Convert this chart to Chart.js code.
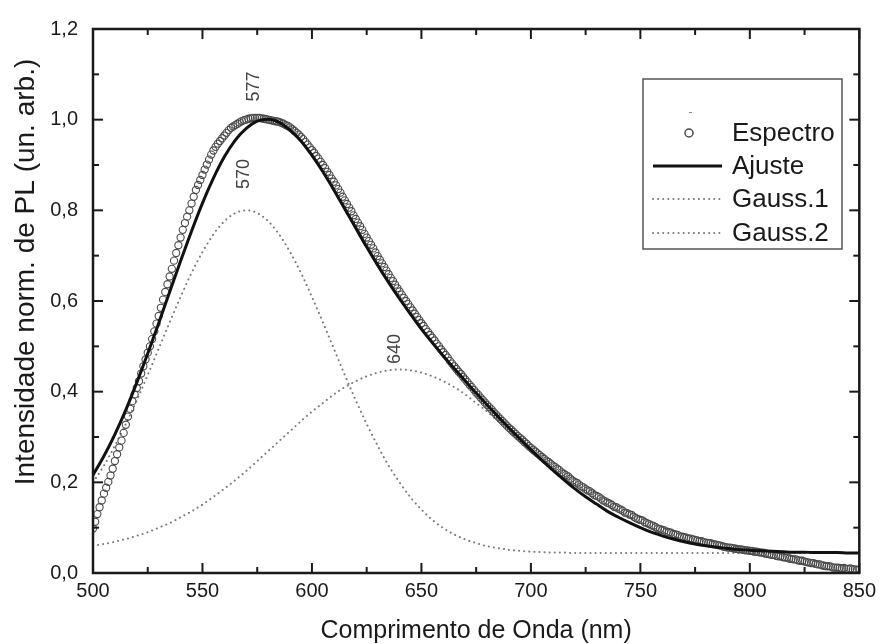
<!DOCTYPE html>
<html>
<head>
<meta charset="utf-8">
<script src="https://cdn.jsdelivr.net/npm/chart.js@4.4.1/dist/chart.umd.min.js"></script>
<style>
  html, body { margin: 0; padding: 0; background: #fff; }
  #wrap { width: 882px; height: 644px; }
</style>
</head>
<body>
<div id="wrap"><canvas id="plChart" width="882" height="644"></canvas></div>
<script>
// measured spectrum, one point per nm from 500 to 850
const specStart = 500
const specStep = 1
const espectro = [
  0.098, 0.113, 0.130, 0.145, 0.160, 0.175, 0.188, 0.201, 0.215, 0.230,
  0.247, 0.262, 0.277, 0.292, 0.309, 0.327, 0.345, 0.362, 0.379, 0.394,
  0.408, 0.423, 0.440, 0.456, 0.471, 0.486, 0.500, 0.516, 0.533, 0.550,
  0.567, 0.585, 0.603, 0.620, 0.637, 0.654, 0.671, 0.689, 0.706, 0.723,
  0.740, 0.757, 0.772, 0.786, 0.800, 0.815, 0.830, 0.845, 0.856, 0.867,
  0.878, 0.890, 0.901, 0.912, 0.923, 0.932, 0.940, 0.947, 0.953, 0.959,
  0.965, 0.971, 0.977, 0.982, 0.985, 0.988, 0.991, 0.994, 0.997, 0.999,
  1.000, 1.002, 1.003, 1.004, 1.004, 1.004, 1.004, 1.003, 1.002, 1.001,
  1.000, 0.999, 0.998, 0.997, 0.996, 0.995, 0.993, 0.991, 0.988, 0.986,
  0.983, 0.979, 0.975, 0.971, 0.967, 0.962, 0.957, 0.951, 0.945, 0.939,
  0.933, 0.927, 0.920, 0.914, 0.907, 0.900, 0.893, 0.885, 0.878, 0.870,
  0.863, 0.855, 0.847, 0.839, 0.830, 0.822, 0.814, 0.806, 0.798, 0.789,
  0.781, 0.773, 0.765, 0.757, 0.748, 0.740, 0.732, 0.724, 0.716, 0.707,
  0.699, 0.691, 0.683, 0.675, 0.667, 0.659, 0.651, 0.644, 0.636, 0.628,
  0.621, 0.614, 0.607, 0.600, 0.593, 0.586, 0.579, 0.572, 0.565, 0.558,
  0.551, 0.545, 0.538, 0.532, 0.525, 0.519, 0.513, 0.506, 0.500, 0.493,
  0.487, 0.481, 0.475, 0.468, 0.462, 0.456, 0.450, 0.444, 0.439, 0.433,
  0.427, 0.421, 0.415, 0.410, 0.404, 0.398, 0.393, 0.387, 0.382, 0.376,
  0.371, 0.366, 0.361, 0.355, 0.350, 0.345, 0.340, 0.335, 0.330, 0.325,
  0.320, 0.316, 0.311, 0.307, 0.302, 0.298, 0.294, 0.289, 0.285, 0.280,
  0.276, 0.272, 0.268, 0.264, 0.260, 0.256, 0.252, 0.248, 0.245, 0.241,
  0.237, 0.234, 0.230, 0.227, 0.222, 0.219, 0.216, 0.213, 0.208, 0.204,
  0.201, 0.199, 0.195, 0.191, 0.189, 0.185, 0.182, 0.180, 0.176, 0.172,
  0.170, 0.168, 0.164, 0.160, 0.158, 0.155, 0.153, 0.150, 0.146, 0.145,
  0.142, 0.140, 0.137, 0.133, 0.132, 0.129, 0.128, 0.124, 0.121, 0.119,
  0.117, 0.116, 0.112, 0.110, 0.108, 0.105, 0.104, 0.101, 0.098, 0.097,
  0.095, 0.094, 0.091, 0.090, 0.089, 0.086, 0.085, 0.084, 0.081, 0.080,
  0.079, 0.078, 0.076, 0.076, 0.074, 0.073, 0.072, 0.070, 0.070, 0.068,
  0.067, 0.066, 0.066, 0.064, 0.063, 0.062, 0.061, 0.060, 0.058, 0.057,
  0.056, 0.056, 0.055, 0.054, 0.053, 0.052, 0.052, 0.051, 0.050, 0.050,
  0.049, 0.049, 0.047, 0.047, 0.046, 0.045, 0.045, 0.043, 0.042, 0.041,
  0.040, 0.040, 0.038, 0.037, 0.037, 0.035, 0.034, 0.034, 0.032, 0.031,
  0.030, 0.030, 0.028, 0.027, 0.027, 0.025, 0.024, 0.023, 0.022, 0.022,
  0.020, 0.019, 0.019, 0.017, 0.016, 0.015, 0.015, 0.014, 0.012, 0.012,
  0.012, 0.011, 0.010, 0.011, 0.009, 0.009, 0.010, 0.008, 0.008, 0.007,
  0.008
]

// fit curves, one point every 5 nm from 500 to 850
const fitStart = 500
const fitStep = 5
const ajuste = [
  0.216, 0.258, 0.306, 0.360, 0.420, 0.484, 0.551, 0.620, 0.688, 0.754,
  0.816, 0.871, 0.918, 0.955, 0.981, 0.997, 1.001, 0.994, 0.977, 0.953,
  0.921, 0.885, 0.845, 0.803, 0.761, 0.719, 0.679, 0.641, 0.605, 0.571,
  0.538, 0.508, 0.479, 0.451, 0.424, 0.397, 0.371, 0.345, 0.320, 0.296,
  0.272, 0.249, 0.227, 0.206, 0.186, 0.168, 0.152, 0.136, 0.123, 0.111,
  0.100, 0.090, 0.082, 0.075, 0.069, 0.064, 0.060, 0.057, 0.054, 0.052,
  0.050, 0.049, 0.048, 0.047, 0.046, 0.046, 0.045, 0.045, 0.045, 0.044,
  0.044
]
const gauss1 = [
  0.200, 0.237, 0.281, 0.329, 0.381, 0.437, 0.495, 0.553, 0.609, 0.662,
  0.708, 0.747, 0.776, 0.794, 0.800, 0.794, 0.776, 0.747, 0.708, 0.662,
  0.609, 0.553, 0.495, 0.437, 0.381, 0.329, 0.281, 0.237, 0.200, 0.167,
  0.140, 0.117, 0.099, 0.085, 0.074, 0.066, 0.059, 0.055, 0.051, 0.049,
  0.047, 0.046, 0.045, 0.045, 0.044, 0.044, 0.044, 0.044, 0.044, 0.044,
  0.044, 0.044, 0.044, 0.044, 0.044, 0.044, 0.044, 0.044, 0.044, 0.044,
  0.044, 0.044, 0.044, 0.044, 0.044, 0.044, 0.044, 0.044, 0.044, 0.044,
  0.044
]
const gauss2 = [
  0.060, 0.064, 0.069, 0.075, 0.082, 0.090, 0.100, 0.110, 0.123, 0.136,
  0.151, 0.168, 0.186, 0.205, 0.225, 0.247, 0.269, 0.291, 0.313, 0.335,
  0.356, 0.375, 0.394, 0.410, 0.423, 0.434, 0.442, 0.447, 0.449, 0.447,
  0.442, 0.434, 0.423, 0.410, 0.394, 0.375, 0.356, 0.335, 0.313, 0.291,
  0.269, 0.247, 0.225, 0.205, 0.186, 0.168, 0.151, 0.136, 0.123, 0.110,
  0.100, 0.090, 0.082, 0.075, 0.069, 0.064, 0.060, 0.057, 0.054, 0.052,
  0.050, 0.049, 0.048, 0.047, 0.046, 0.046, 0.045, 0.045, 0.045, 0.044,
  0.044
]

// peak centre labels (text, wavelength, height where the text sits)
const peakLabels = ["577", "570", "640"]
const peakWl = [573.5, 569, 638]
const peakLevel = [1.073, 0.88, 0.494]

const yTitle = "Intensidade norm. de PL (un. arb.)"

const FONT = '"Liberation Sans", Arial, Helvetica, sans-serif'
const INK = "#1a1a1a"
const DOT = "#7a7a7a"

const toPoints = (vals, start, step) =>
  vals.map((v, i) => ({ x: start + i * step, y: v }))

// frame with inward ticks on all four sides, like the Origin plot
const frameTicks = {
  id: "frameTicks",
  afterDatasetsDraw(chart) {
    const { ctx, chartArea: a, scales } = chart
    const { x, y } = scales
    ctx.save()
    ctx.strokeStyle = INK
    ctx.lineWidth = 2
    const mark = (x0, y0, dx, dy) => {
      ctx.beginPath()
      ctx.moveTo(x0, y0)
      ctx.lineTo(x0 + dx, y0 + dy)
      ctx.stroke()
    }
    const major = 10
    const minor = 6
    x.ticks.forEach((t, i) => {
      const px = x.getPixelForValue(t.value)
      mark(px, a.bottom, 0, -major)
      mark(px, a.top, 0, major)
      const next = x.ticks[i + 1]
      if (next) {
        const mx = x.getPixelForValue((t.value + next.value) / 2)
        mark(mx, a.bottom, 0, -minor)
        mark(mx, a.top, 0, minor)
      }
    })
    y.ticks.forEach((t, i) => {
      const py = y.getPixelForValue(t.value)
      mark(a.left, py, major, 0)
      mark(a.right, py, -major, 0)
      const next = y.ticks[i + 1]
      if (next) {
        const my = y.getPixelForValue((t.value + next.value) / 2)
        mark(a.left, my, minor, 0)
        mark(a.right, my, -minor, 0)
      }
    })
    ctx.lineWidth = 2.5
    ctx.strokeRect(a.left, a.top, a.right - a.left, a.bottom - a.top)
    ctx.restore()
  },
  afterDraw(chart) {
    const { ctx, scales } = chart
    const { x, y } = scales
    ctx.save()

    // y title sits a bit above the axis centre in the original
    ctx.fillStyle = INK
    ctx.font = "28px " + FONT
    ctx.textAlign = "center"
    ctx.textBaseline = "middle"
    ctx.save()
    ctx.translate(26, 272)
    ctx.rotate(-Math.PI / 2)
    ctx.fillText(yTitle, 0, 0)
    ctx.restore()

    // rotated peak labels
    ctx.fillStyle = "#444"
    ctx.font = "18px " + FONT
    peakLabels.forEach((txt, i) => {
      ctx.save()
      ctx.translate(x.getPixelForValue(peakWl[i]), y.getPixelForValue(peakLevel[i]))
      ctx.rotate(-Math.PI / 2)
      ctx.fillText(txt, 0, 0)
      ctx.restore()
    })

    // legend box
    const box = { left: 643, top: 79, right: 842, bottom: 249 }
    ctx.strokeStyle = "#555"
    ctx.lineWidth = 1.5
    ctx.strokeRect(box.left, box.top, box.right - box.left, box.bottom - box.top)

    const rows = [133, 166, 199, 233]
    const symL = 653
    const symR = 722
    const textX = 732
    ctx.font = "26px " + FONT
    ctx.textAlign = "left"
    ctx.fillStyle = INK
    chart.data.datasets.forEach((ds, i) => {
      const ry = rows[i]
      if (ds.showLine === false) {
        ctx.strokeStyle = "#888"
        ctx.lineWidth = 1
        ctx.beginPath()
        ctx.moveTo(689, 112.5)
        ctx.lineTo(692, 112.5)
        ctx.stroke()
        ctx.strokeStyle = ds.borderColor
        ctx.lineWidth = 1.5
        ctx.beginPath()
        ctx.arc(689, ry, 4, 0, Math.PI * 2)
        ctx.stroke()
      } else {
        ctx.strokeStyle = ds.borderColor
        ctx.lineWidth = ds.borderWidth
        ctx.lineCap = ds.borderCapStyle || "butt"
        ctx.setLineDash(ds.borderDash || [])
        ctx.beginPath()
        ctx.moveTo(symL, ry)
        ctx.lineTo(symR, ry)
        ctx.stroke()
        ctx.setLineDash([])
        ctx.lineCap = "butt"
      }
      ctx.fillText(ds.label, textX, ry + 1)
    })
    ctx.restore()
  }
}

new Chart(document.getElementById("plChart"), {
  type: "scatter",
  data: {
    datasets: [
      {
        label: "Espectro",
        data: toPoints(espectro, specStart, specStep),
        showLine: false,
        pointStyle: "circle",
        pointRadius: 3.6,
        pointBorderWidth: 1.1,
        borderColor: "#4a4a4a",
        backgroundColor: "rgba(255,255,255,0)",
        order: 1
      },
      {
        label: "Ajuste",
        data: toPoints(ajuste, fitStart, fitStep),
        showLine: true,
        pointRadius: 0,
        borderColor: "#111",
        borderWidth: 3,
        cubicInterpolationMode: "monotone",
        order: 0
      },
      {
        label: "Gauss.1",
        data: toPoints(gauss1, fitStart, fitStep),
        showLine: true,
        pointRadius: 0,
        borderColor: DOT,
        borderWidth: 2,
        borderDash: [0.1, 5],
        borderCapStyle: "round",
        cubicInterpolationMode: "monotone",
        order: 2
      },
      {
        label: "Gauss.2",
        data: toPoints(gauss2, fitStart, fitStep),
        showLine: true,
        pointRadius: 0,
        borderColor: DOT,
        borderWidth: 2,
        borderDash: [0.1, 5],
        borderCapStyle: "round",
        cubicInterpolationMode: "monotone",
        order: 2
      }
    ]
  },
  options: {
    responsive: false,
    animation: false,
    devicePixelRatio: 1,
    layout: { padding: { top: 29, right: 19, left: 0, bottom: 0 } },
    plugins: {
      legend: { display: false },
      tooltip: { enabled: false }
    },
    scales: {
      x: {
        type: "linear",
        min: 500,
        max: 850,
        grid: { display: false, drawTicks: false },
        border: { display: false },
        ticks: {
          stepSize: 50,
          padding: 6,
          maxRotation: 0,
          color: INK,
          font: { size: 20, family: FONT }
        },
        title: {
          display: true,
          text: "Comprimento de Onda (nm)",
          color: INK,
          font: { size: 25, family: FONT, lineHeight: 1 },
          padding: { top: 0, bottom: 0 }
        },
        afterFit: s => { s.height = 71 }
      },
      y: {
        min: 0,
        max: 1.2,
        grid: { display: false, drawTicks: false },
        border: { display: false },
        ticks: {
          stepSize: 0.2,
          padding: 15,
          color: INK,
          font: { size: 20, family: FONT },
          callback: v => v.toFixed(1).replace(".", ",")
        },
        title: { display: false },
        afterFit: s => { s.width = 93 }
      }
    }
  },
  plugins: [frameTicks]
})
</script>
</body>
</html>
